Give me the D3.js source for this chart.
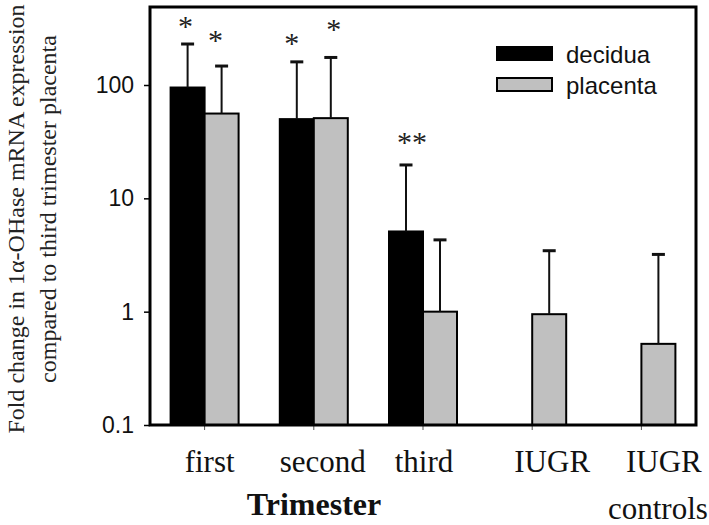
<!DOCTYPE html>
<html><head><meta charset="utf-8">
<script src="https://cdn.jsdelivr.net/npm/d3@7"></script>
<style>
html,body{margin:0;padding:0;background:#fff;}
svg{display:block;}
</style>
</head><body>
<svg id="chart" width="709" height="525"></svg>
<script>
// ---- data ----
const categories = ["first", "second", "third", "IUGR", "IUGR controls"];
const series = ["decidua", "placenta"];
const deciduaValues = [95, 50, 5.1, null, null];
const deciduaErrTop = [230, 160, 19.7, null, null];
const placentaValues = [56, 51, 1.0, 0.95, 0.52];
const placentaErrTop = [147, 175, 4.3, 3.45, 3.2];
const deciduaSig = ["*", "*", "**", "", ""];
const placentaSig = ["*", "*", "", "", ""];
const yTicks = [0.1, 1, 10, 100];
const yTickLabels = ["0.1", "1", "10", "100"];
const xAxisTitle = "Trimester";
const yTitleLines = ["Fold change in 1\u03b1-OHase mRNA expression", "compared to third trimester placenta"];

(function () {
const svg = d3.select("#chart");
const pLeft = 150, pRight = 696, pTop = 7, pBottom = 425;
const serif = "'Liberation Serif','Times New Roman',serif";
const sans = "'Liberation Sans',Arial,sans-serif";

const x = d3.scaleBand().domain(categories).range([pLeft, pRight]).padding(0);
const xs = d3.scaleBand().domain(series).range([-34, 34]).padding(0);
const y = d3.scaleLog().domain([0.1, Math.pow(10, 2 + 78 / 113.33)]).range([pBottom, pTop]);

const fills = { decidua: "#000", placenta: "#c0c0c0" };

const rows = [];
categories.forEach((c, i) => {
  rows.push({ cat: c, s: "decidua", v: deciduaValues[i], e: deciduaErrTop[i], sig: deciduaSig[i] });
  rows.push({ cat: c, s: "placenta", v: placentaValues[i], e: placentaErrTop[i], sig: placentaSig[i] });
});
const present = rows.filter(d => d.v != null);
const bx = d => x(d.cat) + x.bandwidth() / 2 + xs(d.s);
const mx = d => bx(d) + xs.bandwidth() / 2;

// bars
svg.append("g").selectAll("rect").data(present).join("rect")
  .attr("x", d => bx(d))
  .attr("width", xs.bandwidth())
  .attr("y", d => y(d.v))
  .attr("height", d => pBottom - y(d.v))
  .attr("fill", d => fills[d.s])
  .attr("stroke", "#000").attr("stroke-width", 2);

// error bars
const eg = svg.append("g").attr("stroke", "#111");
eg.selectAll("line.v").data(present).join("line").attr("class", "v")
  .attr("x1", mx).attr("x2", mx)
  .attr("y1", d => y(d.v)).attr("y2", d => y(d.e)).attr("stroke-width", 2);
eg.selectAll("line.c").data(present).join("line").attr("class", "c")
  .attr("x1", d => mx(d) - 6.5).attr("x2", d => mx(d) + 6.5)
  .attr("y1", d => y(d.e)).attr("y2", d => y(d.e)).attr("stroke-width", 3);

// significance asterisks
const sigNudge = { "first|decidua": [-2, 22], "first|placenta": [-6, 30], "second|decidua": [-5, 23], "second|placenta": [3, 32], "third|decidua": [6, 27] };
svg.append("g").selectAll("text").data(present.filter(d => d.sig)).join("text")
  .attr("x", d => mx(d) + (sigNudge[d.cat + "|" + d.s] || [0, 25])[0])
  .attr("y", d => y(d.e) - (sigNudge[d.cat + "|" + d.s] || [0, 25])[1] + 14)
  .attr("text-anchor", "middle")
  .attr("font-family", serif)
  .attr("font-size", 30).attr("fill", "#222")
  .text(d => d.sig);

// y axis
const yAxis = d3.axisLeft(y).tickValues(yTicks).tickFormat((d, i) => yTickLabels[i]).tickSize(6).tickPadding(10);
const ya = svg.append("g").attr("transform", `translate(${pLeft},0)`).call(yAxis);
ya.select(".domain").remove();
ya.selectAll("line").attr("stroke", "#000").attr("stroke-width", 1.5);
ya.selectAll("text").attr("font-family", sans).attr("font-size", 23).attr("fill", "#111");

// x axis ticks
const xAxis = d3.axisBottom(x).tickSize(5).tickFormat("");
const xa = svg.append("g").attr("transform", `translate(0,${pBottom})`).call(xAxis);
xa.select(".domain").remove();
xa.selectAll("line").attr("stroke", "#555").attr("stroke-width", 1);

// x labels (per-line horizontal nudge from tick)
const labelNudge = { "first": [5], "second": [9], "third": [1], "IUGR": [20], "IUGR controls": [22.5, 16.5] };
const xl = svg.append("g").selectAll("text").data(categories).join("text")
  .attr("y", 472)
  .attr("text-anchor", "middle")
  .attr("font-family", serif)
  .attr("font-size", 31).attr("fill", "#111");
xl.each(function (d) {
  const parts = d.split(" ");
  const t = d3.select(this);
  parts.forEach((p, i) => {
    t.append("tspan").attr("x", x(d) + x.bandwidth() / 2 + labelNudge[d][i]).attr("dy", i === 0 ? 0 : 47).text(p);
  });
});

// frame
svg.append("rect").attr("x", pLeft).attr("y", pTop).attr("width", pRight - pLeft).attr("height", pBottom - pTop)
  .attr("fill", "none").attr("stroke", "#000").attr("stroke-width", 3);

// x title
svg.append("text").attr("x", 314).attr("y", 515).attr("text-anchor", "middle")
  .attr("font-family", serif)
  .attr("font-weight", "bold").attr("font-size", 32).attr("fill", "#111").text(xAxisTitle);

// y title
const yTitleX = [24, 56], yTitleCY = [219, 209];
yTitleLines.forEach((t, i) => {
  svg.append("text")
    .attr("transform", `translate(${yTitleX[i]},${yTitleCY[i]}) rotate(-90)`)
    .attr("text-anchor", "middle")
    .attr("font-family", serif)
    .attr("font-size", 24).attr("fill", "#222").text(t);
});

// legend
const lg = svg.append("g");
series.forEach((s, i) => {
  const yy = [47, 78][i];
  lg.append("rect").attr("x", 497).attr("y", yy).attr("width", 55).attr("height", 13)
    .attr("fill", fills[s]).attr("stroke", "#000").attr("stroke-width", 2);
  lg.append("text").attr("x", 566).attr("y", yy + 16).attr("font-family", sans)
    .attr("font-size", 24).attr("fill", "#111").text(s);
});
})();
</script>
</body></html>
